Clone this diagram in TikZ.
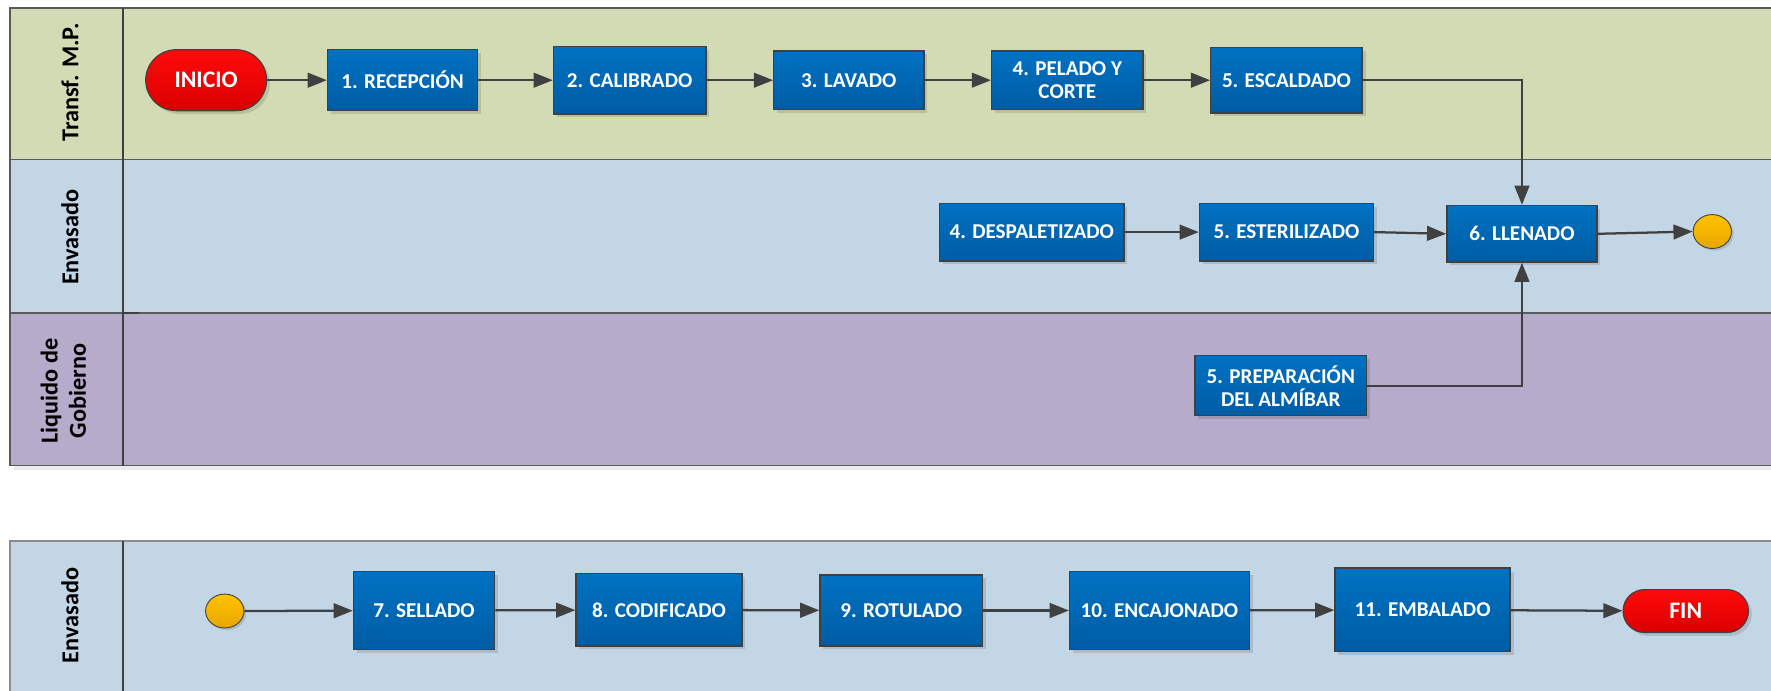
\documentclass[tikz,border=0pt]{standalone}
\usepackage{fontspec}
\setmainfont{Carlito}
\usetikzlibrary{arrows.meta,shadows,shapes.geometric}

\definecolor{laneA}{RGB}{211,219,181}
\definecolor{laneB}{RGB}{195,214,230}
\definecolor{laneC}{RGB}{182,171,203}
\definecolor{boxtop}{RGB}{0,114,194}
\definecolor{boxbot}{RGB}{0,92,164}
\definecolor{edgegray}{RGB}{64,64,64}
\definecolor{framegray}{RGB}{90,90,90}
\definecolor{redtop}{RGB}{255,10,10}
\definecolor{redbot}{RGB}{218,0,0}
\definecolor{yeltop}{RGB}{255,194,0}
\definecolor{yelbot}{RGB}{232,166,0}

\tikzset{
  proc/.style={draw=edgegray, line width=1.2pt, top color=boxtop, bottom color=boxbot,
    text=white, font=\fontsize{18.7}{20.5}\selectfont\bfseries, align=center, inner sep=2pt,
    drop shadow={shadow xshift=3pt, shadow yshift=-3pt, fill=black, opacity=0.12}},
  terminal/.style={draw=edgegray, line width=1pt, top color=redtop, bottom color=redbot,
    text=white, font=\fontsize{21}{24}\selectfont\bfseries, inner sep=2pt,
    drop shadow={shadow xshift=3pt, shadow yshift=-3pt, fill=black, opacity=0.12}},
  link/.style={ellipse, draw=edgegray, line width=0.8pt, top color=yeltop, bottom color=yelbot,
    minimum width=34pt, minimum height=30pt, inner sep=0pt,
    drop shadow={shadow xshift=2pt, shadow yshift=-2pt, fill=black, opacity=0.12}},
  lanetitle/.style={rotate=90, font=\fontsize{21.5}{25}\selectfont\bfseries, align=center, text=black},
  flow/.style={draw=edgegray, line width=2pt, -{Triangle[length=17pt,width=13pt]}},
  border/.style={draw=framegray, line width=1.2pt},
  divider/.style={draw=edgegray, line width=2pt}
}

\begin{document}
\begin{tikzpicture}[x=1pt,y=-1pt]
\useasboundingbox (0,0) rectangle (1568,611);
\fill[white] (0,0) rectangle (1568,611);

% upper pool: three lanes
\fill[laneA] (9,7) rectangle (1600,141);
\fill[laneB] (9,141) rectangle (1600,277);
\fill[laneC] (9,277) rectangle (1600,412);
\fill[black!8] (12,412) rectangle (1600,416);
\draw[border] (1600,7) -- (9,7) -- (9,412) -- (1600,412);
\draw[border] (9,141) -- (1600,141);
\draw[border] (9,277) -- (1600,277);
\draw[divider] (109,7) -- (109,413);
\draw[edgegray, line width=2pt] (109,277) -- (123,277);

\node[lanetitle] (tmp) at (62,73) {Transf. M.P.};
\node[lanetitle] (env) at (62,210) {Envasado};
\node[lanetitle] (liq) at (56,346) {Liquido de\\Gobierno};

% lower pool
\fill[laneB] (9,479) rectangle (1600,640);
\draw[draw=black!45, line width=1.5pt] (1600,479) -- (9,479) -- (9,640);
\draw[divider] (109,479) -- (109,640);
\node[lanetitle] (env2) at (62,545) {Envasado};

% raw material transformation
\node[terminal, rounded corners=27pt, minimum width=107pt, minimum height=54pt] (inicio) at (182.5,71) {INICIO};
\node[proc, minimum width=133pt, minimum height=54pt] (rec) at (356.5,71) {1. RECEPCIÓN};
\node[proc, minimum width=135pt, minimum height=60pt] (cal) at (557.5,71) {2. CALIBRADO};
\node[proc, minimum width=133pt, minimum height=52pt] (lav) at (751.5,71) {3. LAVADO};
\node[proc, minimum width=134pt, minimum height=52pt] (pel) at (945,71) {4. PELADO Y\\CORTE};
\node[proc, minimum width=134pt, minimum height=58pt] (esc) at (1139,71) {5. ESCALDADO};

% filling lane
\node[proc, minimum width=163pt, minimum height=51pt] (des) at (913.5,205.5) {4. DESPALETIZADO};
\node[proc, minimum width=154pt, minimum height=51pt] (est) at (1139,205.5) {5. ESTERILIZADO};
\node[proc, minimum width=133pt, minimum height=50pt] (lle) at (1347.5,207) {6. LLENADO};
\node[link] (out) at (1516,205) {};

% syrup lane
\node[proc, minimum width=152pt, minimum height=53pt] (pre) at (1134,341.5) {5. PREPARACIÓN\\DEL ALMÍBAR};

% second part
\node[link] (in) at (199,541) {};
\node[proc, minimum width=125pt, minimum height=69pt] (sel) at (375.5,540.5) {7. SELLADO};
\node[proc, minimum width=147pt, minimum height=64pt] (cod) at (583.5,540) {8. CODIFICADO};
\node[proc, minimum width=144pt, minimum height=63pt] (rot) at (798,540.5) {9. ROTULADO};
\node[proc, minimum width=159pt, minimum height=69pt] (enc) at (1026.5,540.5) {10. ENCAJONADO};
\node[proc, minimum width=155pt, minimum height=74pt] (emb) at (1259.5,540) {11. EMBALADO};
\node[terminal, rounded corners=19pt, minimum width=111pt, minimum height=38pt] (fin) at (1492.5,541) {FIN};

% connectors
\draw[flow] (inicio) -- (rec);
\draw[flow] (rec) -- (cal);
\draw[flow] (cal) -- (lav);
\draw[flow] (lav) -- (pel);
\draw[flow] (pel) -- (esc);
\draw[flow] (esc.east) -| (lle.north);
\draw[flow] (des) -- (est);
\draw[flow] (est.east) -- (lle.west);
\draw[flow] (lle.east) -- (out.west);
\draw[flow] (pre.east) -| (lle.south);

\draw[flow] (in) -- (sel);
\draw[flow] (sel) -- (cod);
\draw[flow] (cod) -- (rot);
\draw[flow] (rot) -- (enc);
\draw[flow] (enc) -- (emb);
\draw[flow] (emb) -- (fin);
\end{tikzpicture}
\end{document}
